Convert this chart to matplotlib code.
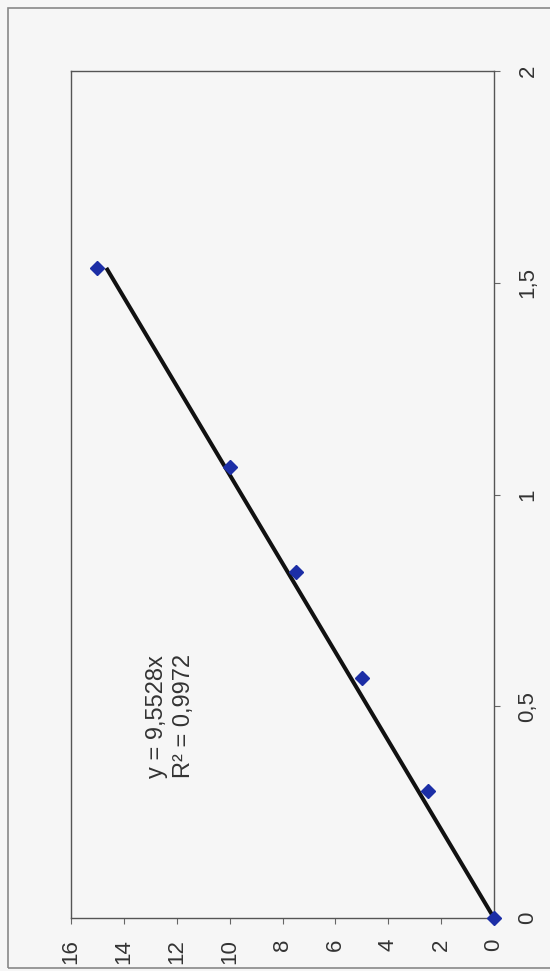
import matplotlib
matplotlib.use("Agg")
import matplotlib.pyplot as plt

plt.rcParams['font.family'] = ['Liberation Sans', 'DejaVu Sans']

# data (x = concentration, y = response)
x_vals = [0, 0.30, 0.567, 0.817, 1.065, 1.535]
y_vals = [0, 2.5, 5, 7.5, 10, 15]
slope = 9.5528
eq_text = "y = 9,5528x"
r2_text = "R² = 0,9972"
x_ticks = [0, 0.5, 1, 1.5, 2]
x_tick_labels = ['0', '0,5', '1', '1,5', '2']
y_ticks = [0, 2, 4, 6, 8, 10, 12, 14, 16]
y_tick_labels = ['0', '2', '4', '6', '8', '10', '12', '14', '16']

W, H = 550, 971
bg = '#f6f6f6'
fig = plt.figure(figsize=(W / 100, H / 100), dpi=100, facecolor=bg)

# chart rotated 90 degrees counter-clockwise: value axis runs horizontally (inverted),
# concentration axis runs vertically with labels on the right
L, R, T, B = 71, 494, 71, 918
ax = fig.add_axes([L / W, 1 - B / H, (R - L) / W, (B - T) / H], facecolor=bg)

trend_x = [0, max(x_vals)]
trend_y = [slope * v for v in trend_x]
ax.plot(trend_y, trend_x, color='#111111', lw=2.9, solid_capstyle='butt', zorder=2)
ax.plot(y_vals, x_vals, linestyle='none', marker='D', markersize=7.5,
        color='#1c2ea6', markeredgecolor='#1c2ea6', zorder=3, clip_on=False)

ax.set_xlim(16, 0)
ax.set_ylim(0, 2)
ax.set_xticks(y_ticks)
ax.set_xticklabels(y_tick_labels, rotation=90, va='top', ha='center')
ax.yaxis.tick_right()
ax.set_yticks(x_ticks)
ax.set_yticklabels(x_tick_labels, rotation=90, va='center', ha='left')

for s in ax.spines.values():
    s.set_color('#555555')
    s.set_linewidth(1.0)
ax.tick_params(axis='x', direction='out', length=4, width=0.8, color='#666666',
               labelsize=16, labelcolor='#333333', pad=11)
ax.tick_params(axis='y', direction='out', length=4, width=0.8, color='#666666',
               labelsize=16, labelcolor='#333333', pad=13)

# trendline label (rotated)
fig.text(163 / W, 1 - 778 / H, eq_text, rotation=90, rotation_mode='anchor',
         ha='left', va='baseline', fontsize=17, color='#333333')
fig.text(190 / W, 1 - 778 / H, r2_text, rotation=90, rotation_mode='anchor',
         ha='left', va='baseline', fontsize=17, color='#333333')

# outer frame
frame = plt.Rectangle((8 / W, 1 - 968 / H), (W + 20) / W, (968 - 8) / H,
                      transform=fig.transFigure, fill=False, edgecolor='#888888', lw=1.2)
fig.patches.append(frame)

fig.savefig('out.png', dpi=100, facecolor=bg)
